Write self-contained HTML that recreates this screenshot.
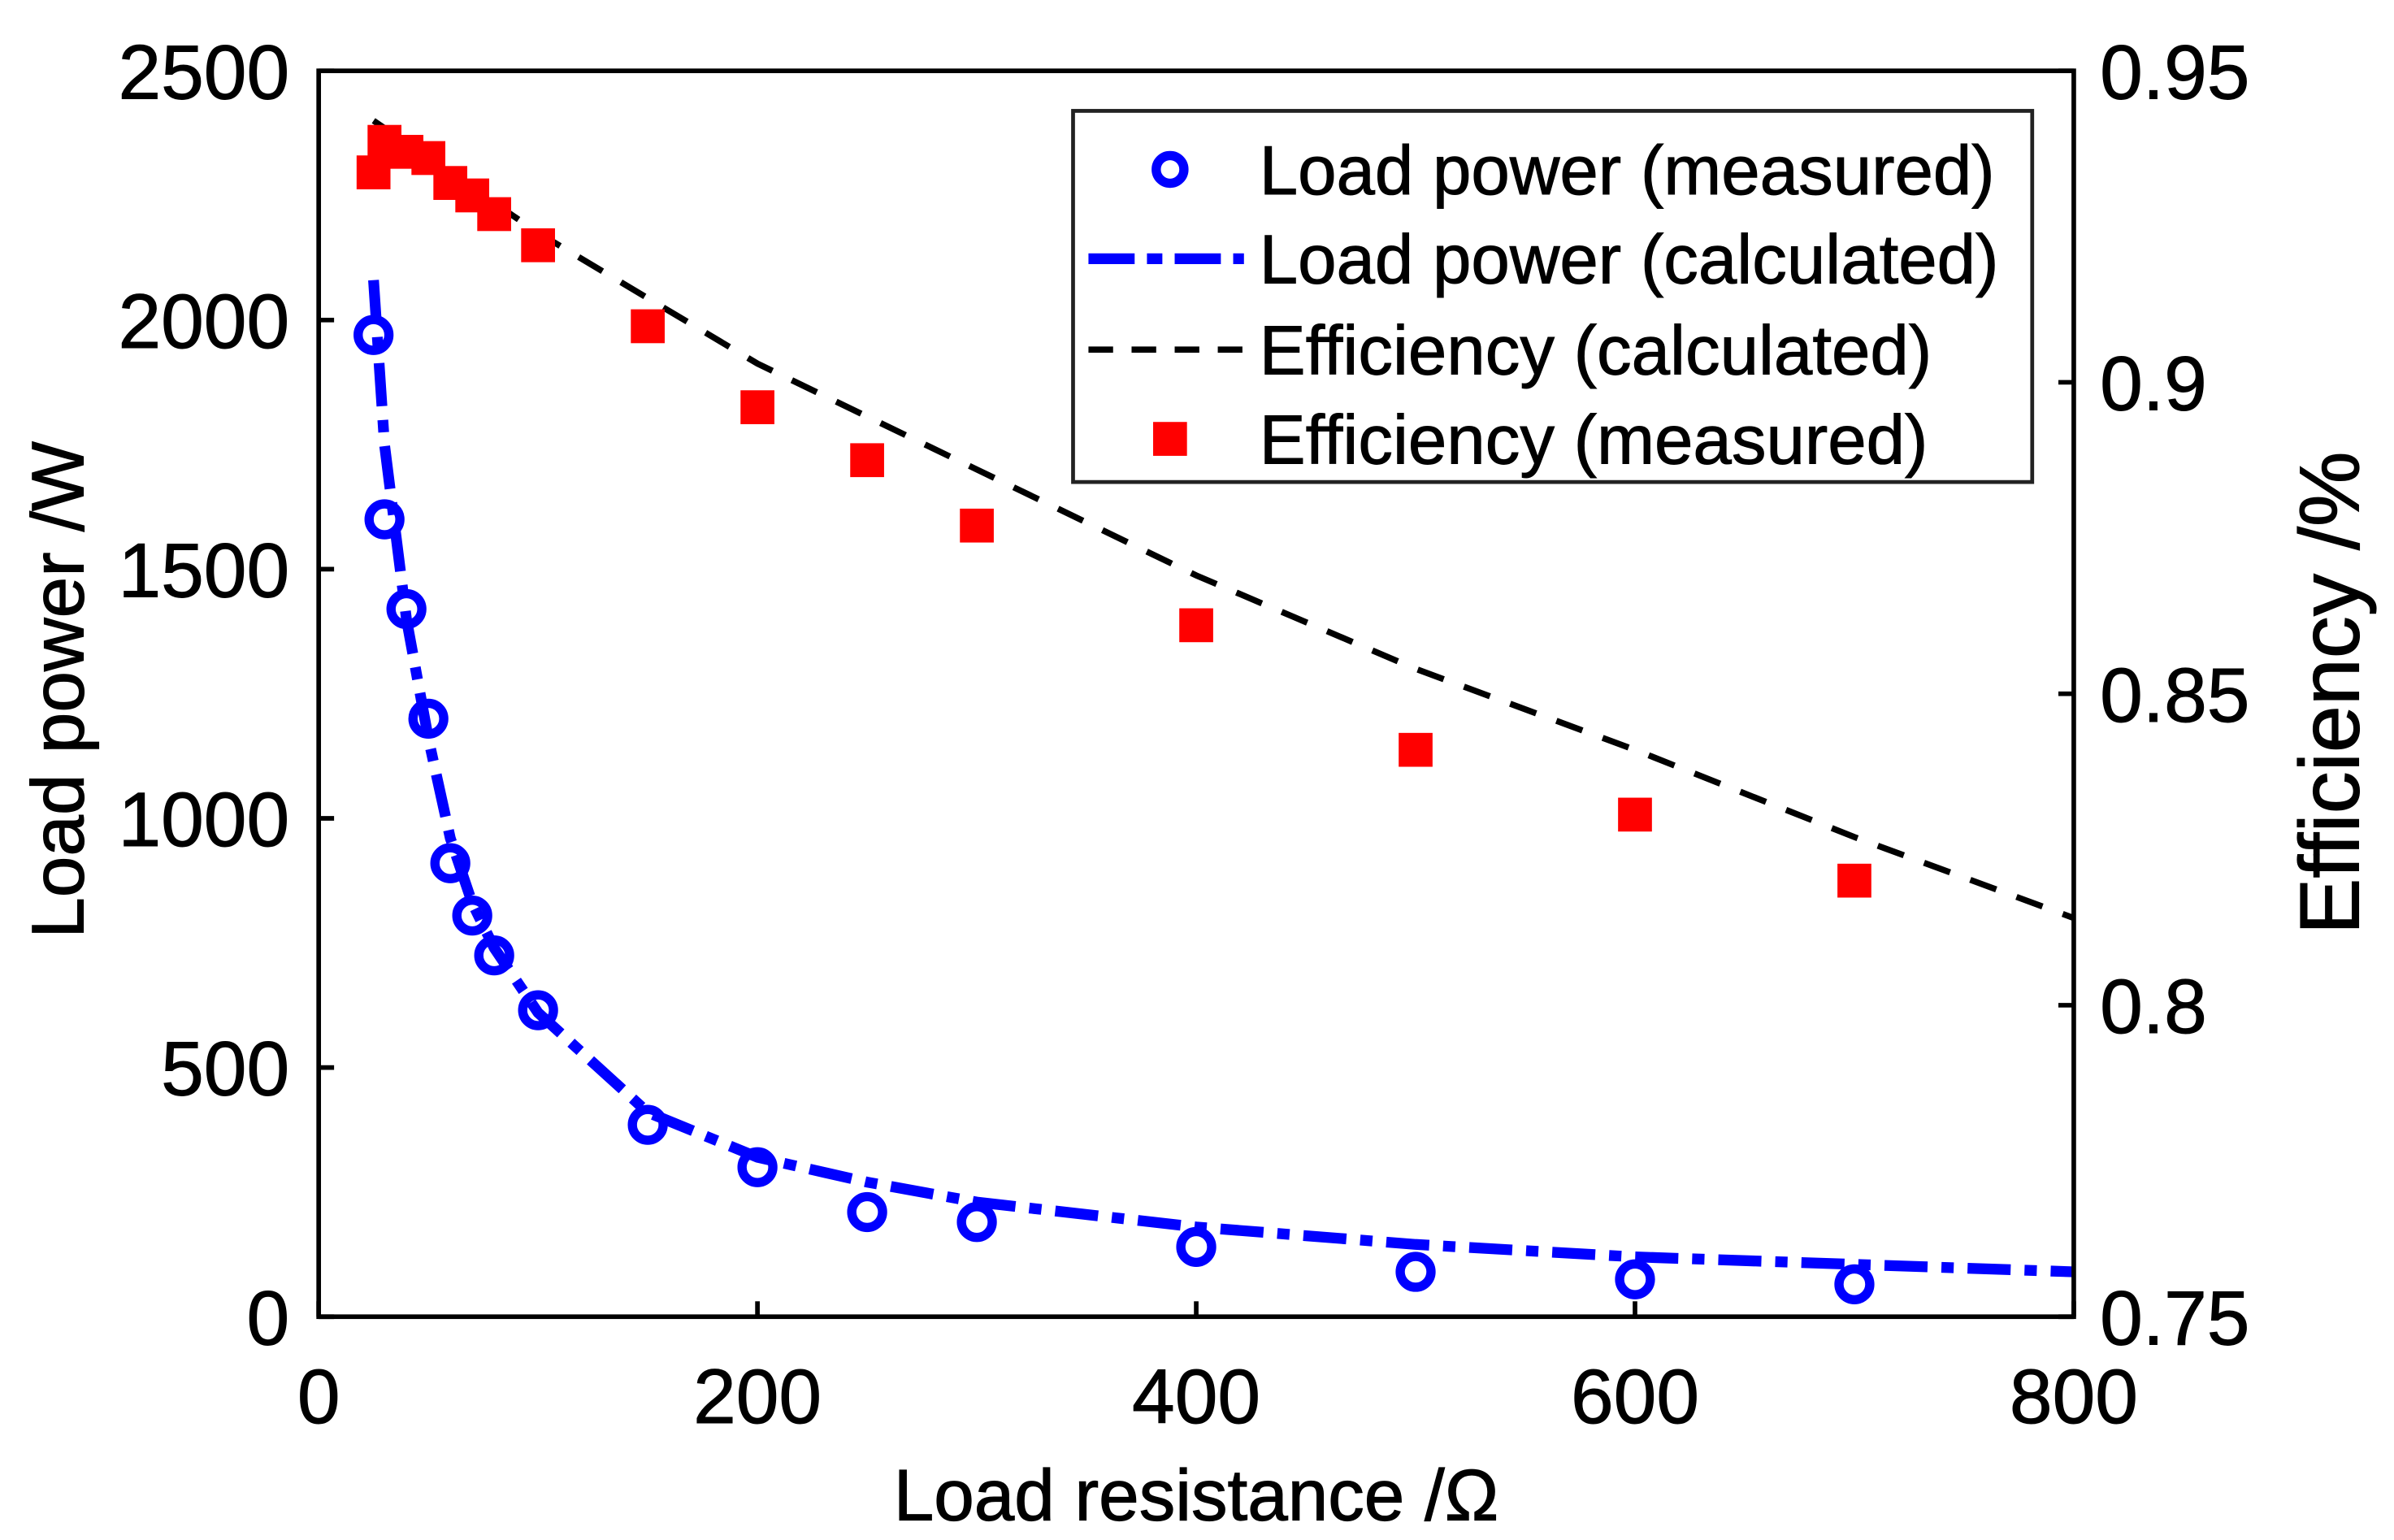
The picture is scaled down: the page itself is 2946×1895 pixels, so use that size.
<!DOCTYPE html>
<html><head><meta charset="utf-8"><style>
html,body{margin:0;padding:0;background:#fff;}
svg{display:block;font-family:"Liberation Sans",Arial,sans-serif;}
</style></head><body>
<svg id="chart" width="2946" height="1895" viewBox="0 0 1555 1000" preserveAspectRatio="none" xmlns="http://www.w3.org/2000/svg">
<g id="plot"></g>
<g id="axes"></g>
<text x="777" y="987" font-size="47" text-anchor="middle" stroke="#000" stroke-width="0.6">Load resistance /Ω</text>
<text transform="translate(54,448) rotate(-90)" font-size="48" text-anchor="middle" stroke="#000" stroke-width="0.6">Load power /W</text>
<text transform="translate(1532,450) rotate(-90)" font-size="55" text-anchor="middle" stroke="#000" stroke-width="0.6">Efficiency /%</text>
<g id="legend">
<rect x="697" y="72" width="623" height="241" fill="#fff" stroke="#222" stroke-width="2.5"/>
<circle cx="760" cy="110" r="9" fill="none" stroke="#0000ff" stroke-width="6"/>
<line x1="707" y1="168" x2="808" y2="168" stroke="#0000ff" stroke-width="7" stroke-dasharray="30,8,10,8"/>
<line x1="707" y1="227" x2="808" y2="227" stroke="#000" stroke-width="4" stroke-dasharray="16,12"/>
<rect x="749" y="274" width="22" height="22" fill="#ff0000"/>
<g font-size="45" stroke="#000" stroke-width="0.5">
<text x="818" y="126">Load power (measured)</text>
<text x="818" y="184">Load power (calculated)</text>
<text x="818" y="243">Efficiency (calculated)</text>
<text x="818" y="301">Efficiency (measured)</text>
</g>
</g>
</svg>
<script>
const xTicks=[0,200,400,600,800];
const yTicksLeft=[0,500,1000,1500,2000,2500];
const yTicksRight=[0.75,0.8,0.85,0.9,0.95];
const yTickLabelsRight=["0.75","0.8","0.85","0.9","0.95"];
const pmX=[25,30,40,50,60,70,80,100,150,200,250,300,400,500,600,700];
const pmY=[1970,1600,1420,1200,910,805,725,615,385,300,210,190,140,90,75,65];
const pcX=[25,30,40,50,60,70,80,100,150,200,250,300,400,500,600,700,800];
const pcY=[2080,1750,1400,1160,960,830,740,610,410,320,270,230,180,145,120,105,90];
const ecX=[25,100,200,300,400,500,600,700,800];
const ecY=[0.942,0.924,0.903,0.886,0.869,0.854,0.841,0.827,0.814];
const emX=[25,30,40,50,60,70,80,100,150,200,250,300,400,500,600,700];
const emY=[0.9337,0.9386,0.937,0.936,0.932,0.930,0.927,0.922,0.909,0.896,0.8875,0.877,0.861,0.841,0.8306,0.820];
const L=207,R=1347,T=46,B=855;
const sx=v=>L+(v-0)/800*(R-L);
const syL=v=>B-v/2500*(B-T);
const syR=v=>B-(v-0.75)/0.2*(B-T);
const NS="http://www.w3.org/2000/svg";
const plot=document.getElementById('plot'),axes=document.getElementById('axes');
function mk(tag,attrs,parent){const e=document.createElementNS(NS,tag);for(const k in attrs)e.setAttribute(k,attrs[k]);parent.appendChild(e);return e;}
let p=mk('polyline',{points:ecX.map((x,i)=>sx(x)+','+syR(ecY[i])).join(' '),fill:'none',stroke:'#000','stroke-width':4,'stroke-dasharray':'18,14'},plot);


p=mk('polyline',{points:pcX.map((x,i)=>sx(x)+','+syL(pcY[i])).join(' '),fill:'none',stroke:'#0000ff','stroke-width':7,'stroke-dasharray':'28,9,8,9'},plot);


emX.forEach((x,i)=>{const r=mk('rect',{x:sx(x)-11,y:syR(emY[i])-11,width:22,height:22,fill:'#ff0000'},plot);

});
pmX.forEach((x,i)=>{const c=mk('circle',{cx:sx(x),cy:syL(pmY[i]),r:10,fill:'none',stroke:'#0000ff','stroke-width':6},plot);

});
const box=mk('rect',{x:L,y:T,width:R-L,height:B-T,fill:'none',stroke:'#000','stroke-width':3},axes);


xTicks.forEach(v=>{const x=sx(v);
const t=mk('line',{x1:x,y1:B,x2:x,y2:B-10,stroke:'#000','stroke-width':3},axes);


const l=mk('text',{x:x,y:924,'font-size':50,'text-anchor':'middle',stroke:'#000','stroke-width':0.5},axes);l.textContent=v;

});
yTicksLeft.forEach(v=>{const y=syL(v);
const t=mk('line',{x1:L,y1:y,x2:L+10,y2:y,stroke:'#000','stroke-width':3},axes);


const l=mk('text',{x:188,y:y+18,'font-size':50,'text-anchor':'end',stroke:'#000','stroke-width':0.5},axes);l.textContent=v;

});
yTicksRight.forEach((v,i)=>{const y=syR(v);
const t=mk('line',{x1:R,y1:y,x2:R-10,y2:y,stroke:'#000','stroke-width':3},axes);


const l=mk('text',{x:1364,y:y+18,'font-size':50,stroke:'#000','stroke-width':0.5},axes);l.textContent=yTickLabelsRight[i];

});
</script>
</body></html>
